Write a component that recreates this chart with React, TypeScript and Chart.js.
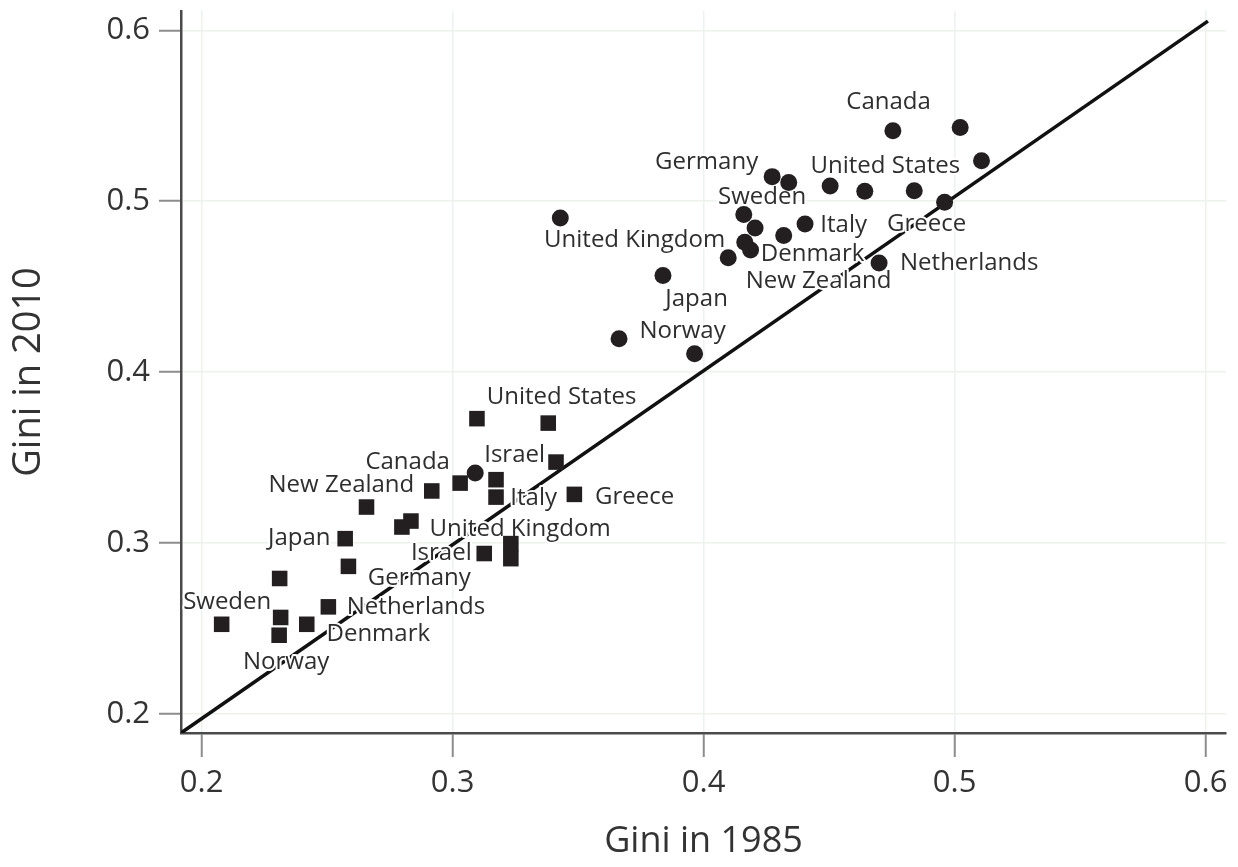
import React, { useEffect, useRef } from "react";
import { Chart, registerables } from "chart.js";

Chart.register(...registerables);

// Gini coefficients: 1985 (x) against 2010 (y)
const circleX = [0.4754, 0.5022, 0.5107, 0.4273, 0.4339, 0.4504, 0.4642, 0.4839, 0.496, 0.3429, 0.416, 0.4205, 0.4404, 0.4319, 0.4164, 0.4187, 0.4098, 0.4699, 0.3838, 0.3663, 0.3964, 0.309];
const circleY = [0.5413, 0.5432, 0.5237, 0.5144, 0.5109, 0.5089, 0.5058, 0.5062, 0.4994, 0.4902, 0.4922, 0.4844, 0.4867, 0.4799, 0.476, 0.4715, 0.4669, 0.4639, 0.4565, 0.4195, 0.4108, 0.341];

const squareX = [0.3097, 0.3381, 0.3412, 0.303, 0.2917, 0.3173, 0.3173, 0.3485, 0.2657, 0.2834, 0.2798, 0.2572, 0.3126, 0.3232, 0.3232, 0.2585, 0.2311, 0.2505, 0.2315, 0.208, 0.2419, 0.2309];
const squareY = [0.3728, 0.3702, 0.3474, 0.3351, 0.3305, 0.3371, 0.3269, 0.3285, 0.3211, 0.3129, 0.3094, 0.3026, 0.2939, 0.2997, 0.2909, 0.2864, 0.2793, 0.2627, 0.2565, 0.2525, 0.2525, 0.2461];

// Reference line endpoints
const lineX = [0.1918, 0.6009];
const lineY = [0.1889, 0.6054];

// Country annotations (text and anchor in data units)
const labelText = [
  "Canada", "Germany", "United States", "Sweden", "Italy", "Greece", "United Kingdom", "Denmark", "Netherlands", "New Zealand", "Japan", "Norway",
  "United States", "Israel", "Canada", "New Zealand", "Italy", "Greece", "United Kingdom", "Japan", "Israel", "Germany", "Netherlands", "Sweden", "Denmark", "Norway",
];
const labelX = [
  0.4737, 0.4012, 0.4724, 0.4233, 0.4558, 0.4888, 0.3725, 0.4434, 0.5058, 0.4458, 0.3972, 0.3916,
  0.3434, 0.3247, 0.2821, 0.2557, 0.3323, 0.3725, 0.3269, 0.2389, 0.2955, 0.2867, 0.2854, 0.2102, 0.2704, 0.2337,
];
const labelY = [
  0.5578, 0.5231, 0.5208, 0.5023, 0.4863, 0.4867, 0.477, 0.4692, 0.4637, 0.4532, 0.4429, 0.424,
  0.3855, 0.3514, 0.3475, 0.3339, 0.3261, 0.327, 0.308, 0.3027, 0.294, 0.2794, 0.2624, 0.2657, 0.2468, 0.2301,
];

const xTicks = [0.2, 0.3, 0.4, 0.5, 0.6];
const yTicks = [0.2, 0.3, 0.4, 0.5, 0.6];
const xRange = [0.1918, 0.6081];
const yRange = [0.1889, 0.6113];

const INK = "#231f20";
const TEXT = "#333333";
const FONT = "'Open Sans', 'Noto Sans', sans-serif";

const labelsPlugin = {
  id: "countryLabels",
  beforeDatasetsDraw(chart: any) {
    chart.$labelsDrawn = false;
  },
  beforeDatasetDraw(chart: any, args: any) {
    if (chart.$labelsDrawn || args.index === 2) return;
    chart.$labelsDrawn = true;
    const { ctx, scales } = chart;
    ctx.save();
    ctx.font = `24px ${FONT}`;
    ctx.textAlign = "center";
    ctx.textBaseline = "middle";
    ctx.lineJoin = "round";
    for (let i = 0; i < labelText.length; i++) {
      const px = scales.x.getPixelForValue(labelX[i]);
      const py = scales.y.getPixelForValue(labelY[i]);
      ctx.strokeStyle = "#ffffff";
      ctx.lineWidth = 4;
      ctx.strokeText(labelText[i], px, py);
      ctx.fillStyle = "#2e2e2e";
      ctx.fillText(labelText[i], px, py);
    }
    ctx.restore();
  },
};

export default function App() {
  const canvasRef = useRef<HTMLCanvasElement | null>(null);

  useEffect(() => {
    document.body.style.margin = "0";
    const canvas = canvasRef.current;
    if (!canvas) return;

    const circles = circleX.map((x, i) => ({ x, y: circleY[i] }));
    const squares = squareX.map((x, i) => ({ x, y: squareY[i] }));
    const diagonal = lineX.map((x, i) => ({ x, y: lineY[i] }));

    const chart = new Chart(canvas, {
      type: "scatter",
      data: {
        datasets: [
          {
            label: "circles",
            data: circles,
            pointStyle: "circle",
            pointRadius: 8.5,
            pointBackgroundColor: INK,
            pointBorderWidth: 0,
            order: 1,
          },
          {
            label: "squares",
            data: squares,
            pointStyle: "rect",
            pointRadius: 11,
            pointBackgroundColor: INK,
            pointBorderWidth: 0,
            order: 1,
          },
          {
            type: "line",
            label: "diagonal",
            data: diagonal,
            showLine: true,
            borderColor: "#111111",
            borderWidth: 3.5,
            pointRadius: 0,
            fill: false,
            order: 2,
          } as any,
        ],
      },
      options: {
        responsive: false,
        animation: false,
        events: [],
        layout: { padding: { top: 10, right: 12, left: 0, bottom: 0 } },
        plugins: {
          legend: { display: false },
          tooltip: { enabled: false },
        },
        scales: {
          x: {
            type: "linear",
            min: xRange[0],
            max: xRange[1],
            afterBuildTicks: (scale: any) => {
              scale.ticks = xTicks.map((value) => ({ value }));
            },
            afterFit: (scale: any) => {
              scale.height = 134;
              scale.paddingLeft = 0;
              scale.paddingRight = 0;
            },
            ticks: {
              font: { family: FONT, size: 31 },
              color: TEXT,
              padding: 8,
              maxRotation: 0,
              callback: (v: any) => Number(v).toFixed(1),
            },
            grid: {
              color: "#eef2ee",
              lineWidth: 1.5,
              tickColor: "#8c8c8c",
              tickLength: 24,
              tickWidth: 2,
            },
            border: { display: true, color: "#4a4a4a", width: 2.5 },
            title: {
              display: true,
              text: "Gini in 1985",
              font: { family: FONT, size: 36 },
              color: TEXT,
              padding: { top: 0, bottom: 4 },
            },
          },
          y: {
            type: "linear",
            min: yRange[0],
            max: yRange[1],
            afterBuildTicks: (scale: any) => {
              scale.ticks = yTicks.map((value) => ({ value }));
            },
            afterFit: (scale: any) => {
              scale.width = 181;
              scale.paddingTop = 0;
              scale.paddingBottom = 0;
            },
            ticks: {
              font: { family: FONT, size: 31 },
              color: TEXT,
              padding: 9,
              callback: (v: any) => Number(v).toFixed(1),
            },
            grid: {
              color: "#eef2ee",
              lineWidth: 1.5,
              tickColor: "#8c8c8c",
              tickLength: 22,
              tickWidth: 2,
            },
            border: { display: true, color: "#4a4a4a", width: 2.5 },
            title: {
              display: true,
              text: "Gini in 2010",
              font: { family: FONT, size: 38 },
              color: TEXT,
              padding: { top: 6, bottom: 0 },
            },
          },
        },
      },
      plugins: [labelsPlugin],
    });

    return () => chart.destroy();
  }, []);

  return (
    <div style={{ position: "fixed", left: 0, top: 0, width: 1238, height: 867, background: "#ffffff" }}>
      <canvas ref={canvasRef} width={1238} height={867} style={{ display: "block" }} />
    </div>
  );
}
